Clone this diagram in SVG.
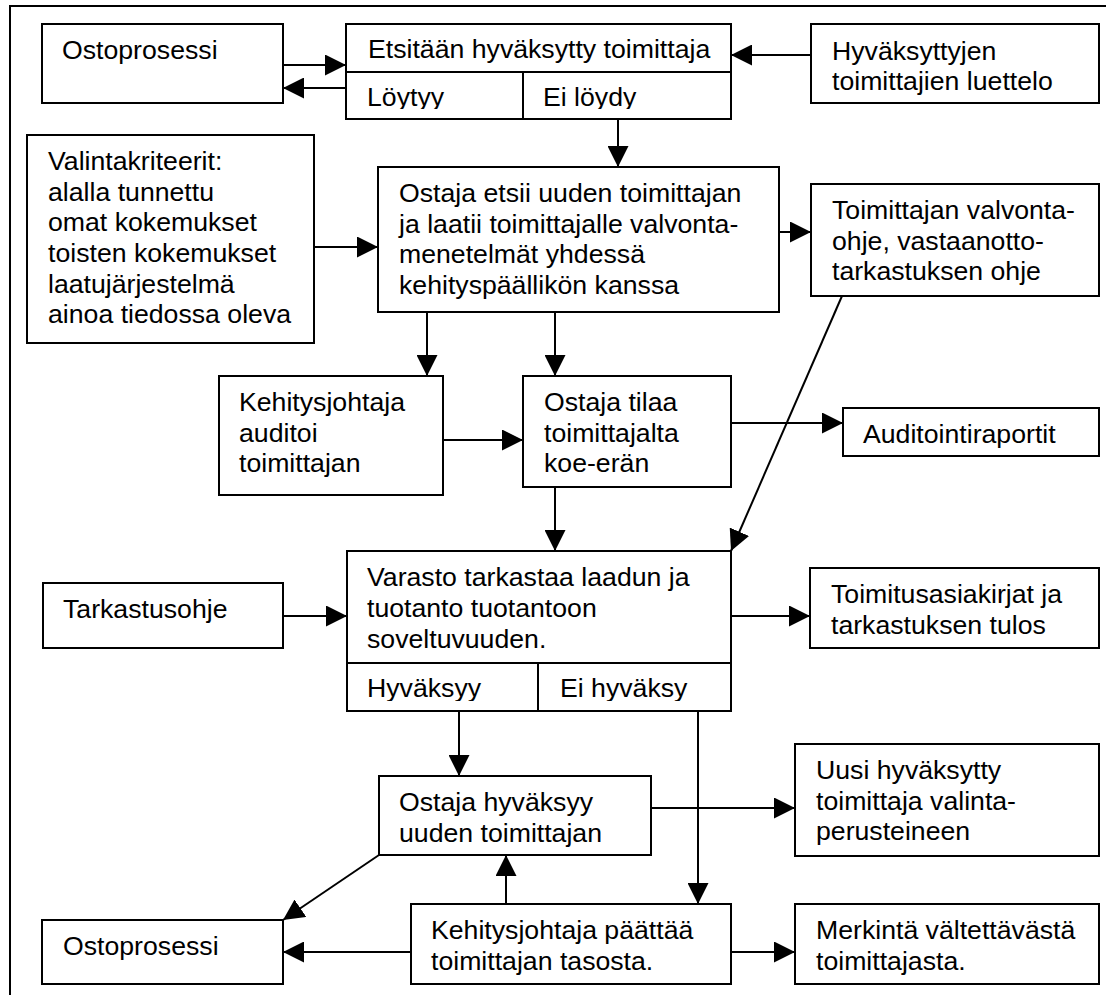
<svg xmlns="http://www.w3.org/2000/svg" width="1106" height="995" viewBox="0 0 1106 995">
<style>
.b{fill:#fff;stroke:#000;stroke-width:2}
.l{fill:none;stroke:#000;stroke-width:2}
.t{font-family:"Liberation Sans",Arial,sans-serif;font-size:26.67px;fill:#000}
.c{fill:none;stroke:#000;stroke-width:2;marker-end:url(#ah)}
</style>
<defs>
<marker id="ah" markerUnits="userSpaceOnUse" markerWidth="21" markerHeight="21" viewBox="0 0 21 21" refX="21" refY="10.5" orient="auto"><path d="M0,0 L21,10.5 L0,21 z" fill="#000"/></marker>
<clipPath id="cl1"><rect x="346" y="72" width="385" height="37"/></clipPath>
<clipPath id="cl2"><rect x="347" y="663" width="384" height="38"/></clipPath>
</defs>
<rect width="1106" height="995" fill="#fff"/>
<g id="frame"><path class="l" d="M10,995 V6 H1106"/></g>
<g id="connectors">
<line class="c" x1="283" y1="65" x2="346" y2="65"/>
<line class="c" x1="346" y1="88" x2="283" y2="88"/>
<line class="c" x1="811" y1="55" x2="731" y2="55"/>
<line class="c" x1="618" y1="119" x2="618" y2="167"/>
<line class="c" x1="314" y1="247" x2="378" y2="247"/>
<line class="c" x1="779" y1="232" x2="811" y2="232"/>
<line class="c" x1="427" y1="312" x2="427" y2="376"/>
<line class="c" x1="555" y1="312" x2="555" y2="376"/>
<line class="c" x1="443" y1="440" x2="523" y2="440"/>
<line class="c" x1="731" y1="423" x2="843" y2="423"/>
<line class="c" x1="842" y1="296" x2="731" y2="551"/>
<line class="c" x1="555" y1="487" x2="555" y2="551"/>
<line class="c" x1="283" y1="616" x2="347" y2="616"/>
<line class="c" x1="731" y1="616" x2="810" y2="616"/>
<line class="c" x1="459" y1="711" x2="459" y2="776"/>
<line class="c" x1="698" y1="711" x2="698" y2="904"/>
<line class="c" x1="651" y1="808" x2="795" y2="808"/>
<line class="c" x1="379" y1="855" x2="283" y2="920"/>
<line class="c" x1="506" y1="904" x2="506" y2="855"/>
<line class="c" x1="411" y1="952" x2="283" y2="952"/>
<line class="c" x1="731" y1="952" x2="795" y2="952"/>
</g>
<g id="n1"><rect class="b" x="42" y="24" width="241" height="79"/><text class="t" x="62" y="59">Ostoprosessi</text></g>
<g id="n2"><rect class="b" x="346" y="24" width="385" height="95"/><path class="l" d="M346,72 H731 M523,72 V119"/>
<text class="t" x="368" y="58">Etsitään hyväksytty toimittaja</text>
<g clip-path="url(#cl1)"><text class="t" x="367" y="106">Löytyy</text><text class="t" x="543" y="106">Ei löydy</text></g></g>
<g id="n3"><rect class="b" x="811" y="24" width="288" height="79"/><text class="t" x="832" y="60">Hyväksyttyjen</text><text class="t" x="832" y="90">toimittajien luettelo</text></g>
<g id="n4"><rect class="b" x="27" y="135" width="287" height="208"/>
<text class="t" x="48" y="170">Valintakriteerit:</text>
<text class="t" x="48" y="201">alalla tunnettu</text>
<text class="t" x="48" y="231">omat kokemukset</text>
<text class="t" x="48" y="262">toisten kokemukset</text>
<text class="t" x="48" y="293">laatujärjestelmä</text>
<text class="t" x="48" y="323">ainoa tiedossa oleva</text></g>
<g id="n5"><rect class="b" x="378" y="167" width="401" height="145"/>
<text class="t" x="399" y="202">Ostaja etsii uuden toimittajan</text>
<text class="t" x="399" y="233">ja laatii toimittajalle valvonta-</text>
<text class="t" x="399" y="263">menetelmät yhdessä</text>
<text class="t" x="399" y="294">kehityspäällikön kanssa</text></g>
<g id="n6"><rect class="b" x="811" y="184" width="288" height="112"/>
<text class="t" x="832" y="219">Toimittajan valvonta-</text>
<text class="t" x="832" y="250">ohje, vastaanotto-</text>
<text class="t" x="832" y="280">tarkastuksen ohje</text></g>
<g id="n7"><rect class="b" x="219" y="376" width="224" height="119"/>
<text class="t" x="239" y="411">Kehitysjohtaja</text>
<text class="t" x="239" y="442">auditoi</text>
<text class="t" x="239" y="472">toimittajan</text></g>
<g id="n8"><rect class="b" x="523" y="376" width="208" height="111"/>
<text class="t" x="544" y="411">Ostaja tilaa</text>
<text class="t" x="544" y="442">toimittajalta</text>
<text class="t" x="544" y="472">koe-erän</text></g>
<g id="n9"><rect class="b" x="843" y="408" width="256" height="48"/><text class="t" x="863" y="443">Auditointiraportit</text></g>
<g id="n10"><rect class="b" x="43" y="583" width="240" height="65"/><text class="t" x="63" y="618">Tarkastusohje</text></g>
<g id="n11"><rect class="b" x="347" y="551" width="384" height="160"/><path class="l" d="M347,663 H731 M538,663 V711"/>
<text class="t" x="367" y="586">Varasto tarkastaa laadun ja</text>
<text class="t" x="367" y="617">tuotanto tuotantoon</text>
<text class="t" x="367" y="648">soveltuvuuden.</text>
<g clip-path="url(#cl2)"><text class="t" x="367" y="697">Hyväksyy</text><text class="t" x="560" y="697">Ei hyväksy</text></g></g>
<g id="n12"><rect class="b" x="810" y="568" width="289" height="80"/>
<text class="t" x="831" y="603">Toimitusasiakirjat ja</text>
<text class="t" x="831" y="634">tarkastuksen tulos</text></g>
<g id="n13"><rect class="b" x="379" y="776" width="272" height="79"/>
<text class="t" x="399" y="811">Ostaja hyväksyy</text>
<text class="t" x="399" y="842">uuden toimittajan</text></g>
<g id="n14"><rect class="b" x="795" y="744" width="304" height="112"/>
<text class="t" x="816" y="779">Uusi hyväksytty</text>
<text class="t" x="816" y="810">toimittaja valinta-</text>
<text class="t" x="816" y="840">perusteineen</text></g>
<g id="n15"><rect class="b" x="42" y="920" width="241" height="64"/><text class="t" x="63" y="955">Ostoprosessi</text></g>
<g id="n16"><rect class="b" x="411" y="904" width="320" height="80"/>
<text class="t" x="431" y="939">Kehitysjohtaja päättää</text>
<text class="t" x="431" y="970">toimittajan tasosta.</text></g>
<g id="n17"><rect class="b" x="795" y="904" width="304" height="80"/>
<text class="t" x="816" y="939">Merkintä vältettävästä</text>
<text class="t" x="816" y="970">toimittajasta.</text></g>
</svg>
